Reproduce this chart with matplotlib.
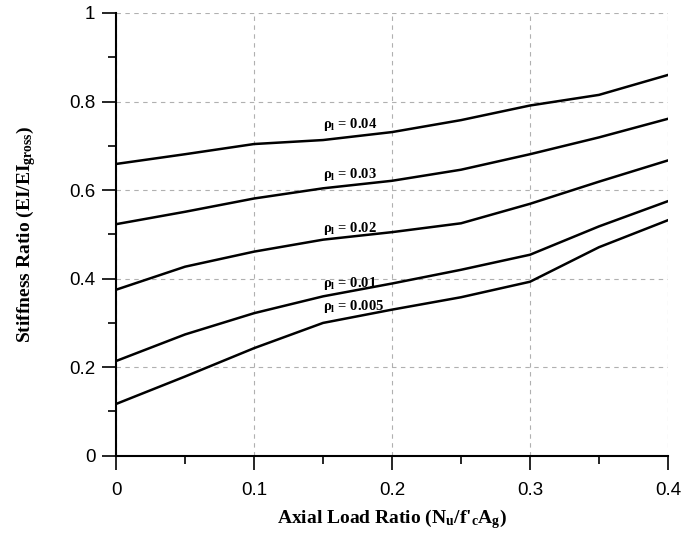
import numpy as np
import matplotlib
matplotlib.use('Agg')
import matplotlib.pyplot as plt
from matplotlib.ticker import MultipleLocator

plt.rcParams['mathtext.fontset'] = 'custom'
plt.rcParams['mathtext.rm'] = 'Liberation Serif:bold'
plt.rcParams['mathtext.it'] = 'Liberation Serif:bold'

# axial load ratio values
load_ratio = [0.0, 0.05, 0.1, 0.15, 0.2, 0.25, 0.3, 0.35, 0.4]

# stiffness ratio for each reinforcement ratio
rho_004 = [0.659, 0.681, 0.704, 0.713, 0.731, 0.758, 0.791, 0.815, 0.860]
rho_003 = [0.523, 0.551, 0.581, 0.604, 0.621, 0.646, 0.681, 0.719, 0.761]
rho_002 = [0.375, 0.427, 0.461, 0.488, 0.505, 0.525, 0.569, 0.619, 0.667]
rho_001 = [0.214, 0.274, 0.322, 0.360, 0.389, 0.420, 0.454, 0.518, 0.575]
rho_0005 = [0.117, 0.179, 0.243, 0.300, 0.330, 0.358, 0.393, 0.471, 0.532]

curves = [rho_004, rho_003, rho_002, rho_001, rho_0005]
labels = ['0.04', '0.03', '0.02', '0.01', '0.005']
label_y = [0.749, 0.636, 0.514, 0.388, 0.336]

fig = plt.figure(figsize=(6.83, 5.4), dpi=100)
ax = fig.add_axes([0.170, 0.156, 0.808, 0.820])

for ys in curves:
    ax.plot(load_ratio, ys, color='black', lw=1.8, solid_joinstyle='round')

for lab, ly in zip(labels, label_y):
    ax.text(0.150, ly, 'ρ$_{\\mathrm{l}}$ = ' + lab, fontsize=10.5,
            family='Liberation Serif', fontweight='bold', ha='left', va='center')

ax.set_xlim(0, 0.4)
ax.set_ylim(0, 1)
ax.xaxis.set_minor_locator(MultipleLocator(0.05))
ax.yaxis.set_minor_locator(MultipleLocator(0.1))
ax.set_xticks([0, 0.1, 0.2, 0.3, 0.4])
ax.set_xticklabels(['0', '0.1', '0.2', '0.3', '0.4'])
ax.set_yticks([0, 0.2, 0.4, 0.6, 0.8, 1.0])
ax.set_yticklabels(['0', '0.2', '0.4', '0.6', '0.8', '1'])

for lbl in ax.get_xticklabels() + ax.get_yticklabels():
    lbl.set_family('Liberation Sans')
    lbl.set_fontsize(13.5)

ax.tick_params(which='major', direction='out', length=10, width=1.2, color='black')
ax.tick_params(which='minor', direction='out', length=5.5, width=1.2, color='black')
ax.tick_params(axis='x', which='major', pad=9)
ax.tick_params(axis='y', which='major', pad=5)

ax.grid(True, which='major', color='#b0b0b0', linestyle=(0, (4, 4)), linewidth=0.8)
ax.set_axisbelow(True)

for side in ['top', 'right']:
    ax.spines[side].set_visible(False)
for side in ['left', 'bottom']:
    ax.spines[side].set_linewidth(1.5)

ax.set_xlabel(r"Axial Load Ratio (N$_{\mathrm{u}}$/f'$_{\mathrm{c}}$A$_{\mathrm{g}}$)",
              family='Liberation Serif', fontweight='bold', fontsize=14, labelpad=6)
ax.set_ylabel(r'Stiffness Ratio (EI/EI$_{\mathrm{gross}}$)',
              family='Liberation Serif', fontweight='bold', fontsize=14, labelpad=22)

fig.savefig('out.png', dpi=100)
